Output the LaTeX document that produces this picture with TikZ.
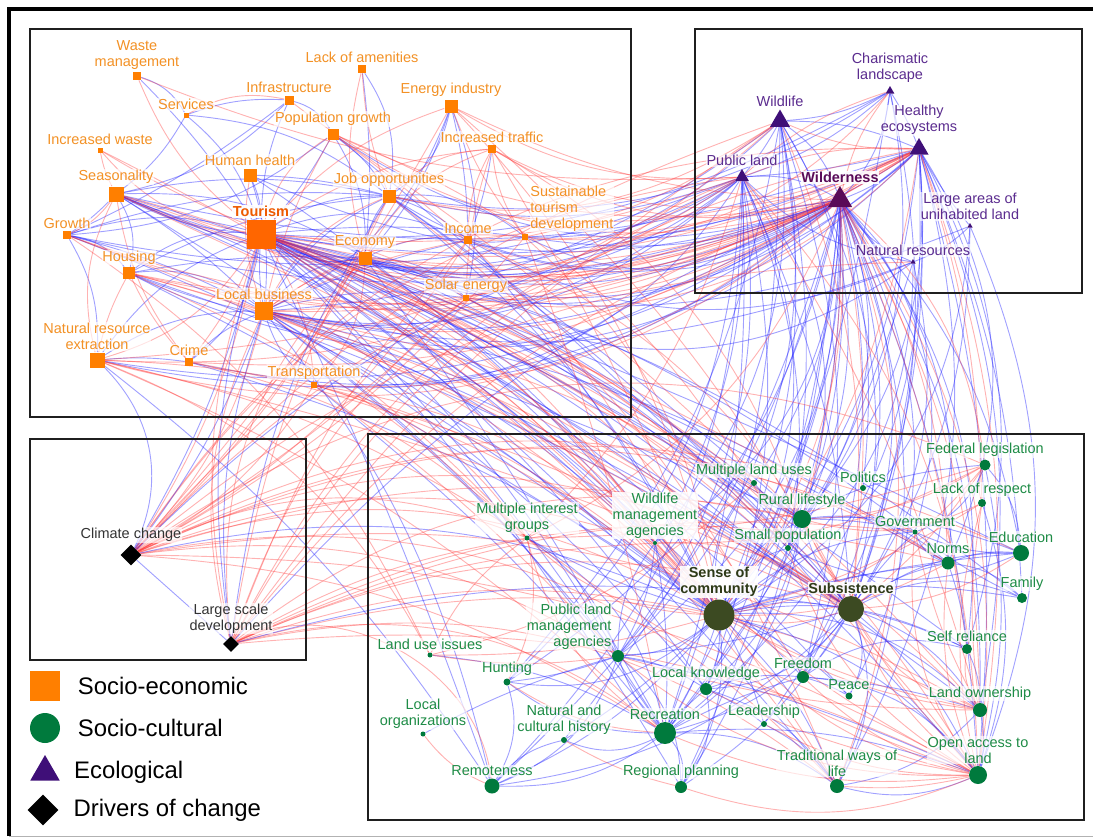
\documentclass[tikz,border=0pt]{standalone}
\usepackage{fontspec}
\setmainfont{Liberation Sans}
\usetikzlibrary{shapes.geometric,backgrounds}

\definecolor{seorange}{HTML}{FF7F00}
\definecolor{tourorange}{HTML}{FF6600}
\definecolor{setext}{HTML}{F39125}
\definecolor{tourtext}{HTML}{EE5A00}
\definecolor{scgreen}{HTML}{007A3D}
\definecolor{sctext}{HTML}{1E8C46}
\definecolor{olive}{HTML}{3C4A22}
\definecolor{olivetext}{HTML}{2E3A18}
\definecolor{ecpurple}{HTML}{3F0F78}
\definecolor{ectext}{HTML}{5B2C8F}
\definecolor{wildpurple}{HTML}{5A0B58}
\definecolor{edgeblue}{HTML}{2020FF}
\definecolor{edgered}{HTML}{FF3535}

\newcommand{\lblfont}{\fontsize{10.3}{11.4}\selectfont}

\tikzset{
  senode/.style={rectangle,fill=seorange,inner sep=0pt,minimum size=#1*0.025cm},
  scnode/.style={circle,fill=scgreen,inner sep=0pt,minimum size=#1*0.025cm},
  ecnode/.style={regular polygon,regular polygon sides=3,fill=ecpurple,inner sep=0pt,minimum size=#1*0.025cm},
  drnode/.style={diamond,aspect=1,fill=black,inner sep=0pt,minimum size=#1*0.025cm},
  halo/.style={font=\lblfont,align=center,inner sep=0.6pt,fill=white,fill opacity=0.65,text opacity=1},
  selbl/.style={halo,text=setext},
  sclbl/.style={halo,text=sctext},
  eclbl/.style={halo,text=ectext},
  drlbl/.style={halo,text=black!80},
  boldlbl/.style={halo,font=\lblfont\bfseries,fill opacity=0.9},
  every label/.style={label distance=1pt},
  posedge/.style={draw=edgeblue,draw opacity=0.42,line width=0.65pt},
  negedge/.style={draw=edgered,draw opacity=0.38,line width=0.65pt},
  boxframe/.style={draw=black!88,line width=1.4pt},
  legtxt/.style={font=\fontsize{17}{20}\selectfont,text=black,label distance=9pt}
}

\begin{document}
\begin{tikzpicture}[x=0.025cm,y=-0.025cm]
  \useasboundingbox (0,0) rectangle (1093,837);
  % outer frame
  \draw[line width=2.2pt] (9,836) -- (9,9) -- (1093,9);
  \draw[black!30,line width=0.6pt] (9,836) -- (1093,836);

  % group boxes
  \draw[boxframe] (30,29) rectangle (631,417);
  \draw[boxframe] (695,29) rectangle (1082,293);
  \draw[boxframe] (30,439) rectangle (306,660);
  \draw[boxframe] (368,434) rectangle (1084,820);

  % socio-economic
  \node[senode=8,label={[selbl]above:Waste\\management}] (waste) at (137,76) {};
  \node[senode=8,label={[selbl]above:Lack of amenities}] (lack) at (362,69) {};
  \node[senode=9,label={[selbl]above:Infrastructure}] (infra) at (289,100) {};
  \node[senode=5,label={[selbl]above:Services}] (serv) at (186,115) {};
  \node[senode=13,label={[selbl]above:Energy industry}] (energy) at (451,106) {};
  \node[senode=11,label={[selbl]above:Population growth}] (popg) at (333,134) {};
  \node[senode=5,label={[selbl]above:Increased waste}] (iwaste) at (100,150) {};
  \node[senode=8,label={[selbl]above:Increased traffic}] (itraf) at (492,149) {};
  \node[senode=13,label={[selbl]above:Human health}] (hh) at (250,175) {};
  \node[senode=15,label={[selbl]above:Seasonality}] (seas) at (116,194) {};
  \node[senode=13,label={[selbl]above:Job opportunities}] (job) at (389,196) {};
  \node[senode=6,label={[selbl,align=left]north east:Sustainable\\tourism\\development}] (std) at (525,237) {};
  \node[senode=29,fill=tourorange,label={[boldlbl,text=tourtext]above:Tourism}] (tour) at (261,234) {};
  \node[senode=8,label={[selbl]above:Growth}] (grow) at (67,235) {};
  \node[senode=13,label={[selbl]above:Economy}] (econ) at (365,258) {};
  \node[senode=8,label={[selbl]above:Income}] (inc) at (468,240) {};
  \node[senode=12,label={[selbl]above:Housing}] (hous) at (129,273) {};
  \node[senode=6,label={[selbl]above:Solar energy}] (solar) at (466,298) {};
  \node[senode=18,label={[selbl]above:Local business}] (lbus) at (264,311) {};
  \node[senode=15,label={[selbl]above:Natural resource\\extraction}] (nre) at (97,360) {};
  \node[senode=8,label={[selbl]above:Crime}] (crime) at (189,362) {};
  \node[senode=6,label={[selbl]above:Transportation}] (trans) at (314,385) {};

  % ecological
  \node[ecnode=10,label={[eclbl]above:Charismatic\\landscape}] (char) at (890,91) {};
  \node[ecnode=23,label={[eclbl]above:Wildlife}] (wildl) at (780,121) {};
  \node[ecnode=22,label={[eclbl]above:Healthy\\ecosystems}] (heal) at (919,149) {};
  \node[ecnode=16,label={[eclbl]above:Public land}] (pland) at (742,177) {};
  \node[ecnode=28,fill=wildpurple,label={[boldlbl,text=wildpurple]above:Wilderness}] (wild) at (840,200) {};
  \node[ecnode=6,label={[eclbl]above:Large areas of\\unihabited land}] (large) at (970,226) {};
  \node[ecnode=6,label={[eclbl]above:Natural resources}] (natres) at (913,262) {};

  % drivers of change
  \node[drnode=21,label={[drlbl]above:Climate change}] (clim) at (131,555) {};
  \node[drnode=16,label={[drlbl]above:Large scale\\development}] (lsd) at (231,644) {};

  % socio-cultural
  \node[scnode=11,label={[sclbl]above:Federal legislation}] (fed) at (985,465) {};
  \node[scnode=6,label={[sclbl]above:Multiple land uses}] (mlu) at (754,483) {};
  \node[scnode=6,label={[sclbl]above:Politics}] (pol) at (863,488) {};
  \node[scnode=8,label={[sclbl]above:Lack of respect}] (lor) at (982,503) {};
  \node[scnode=4,label={[sclbl,fill opacity=0.85]above:Wildlife\\management\\agencies}] (wma) at (655,543) {};
  \node[scnode=18,label={[sclbl]above:Rural lifestyle}] (rural) at (802,519) {};
  \node[scnode=5,label={[sclbl]above:Multiple interest\\groups}] (mig) at (527,538) {};
  \node[scnode=5,label={[sclbl]above:Government}] (gov) at (915,532) {};
  \node[scnode=6,label={[sclbl]above:Small population}] (smallp) at (788,548) {};
  \node[scnode=13,label={[sclbl]above:Norms}] (norms) at (948,563) {};
  \node[scnode=16,label={[sclbl]above:Education}] (edu) at (1021,553) {};
  \node[scnode=31,fill=olive,label={[boldlbl,text=olivetext]above:Sense of\\community}] (soc) at (719,615) {};
  \node[scnode=26,fill=olive,label={[boldlbl,text=olivetext]above:Subsistence}] (subs) at (851,609) {};
  \node[scnode=10,label={[sclbl]above:Family}] (fam) at (1022,598) {};
  \node[scnode=10,label={[sclbl]above:Self reliance}] (selfr) at (967,649) {};
  \node[scnode=12,label={[sclbl,align=right]north west:Public land\\management\\agencies}] (plma) at (618,656) {};
  \node[scnode=5,label={[sclbl]above:Land use issues}] (lui) at (430,655) {};
  \node[scnode=7,label={[sclbl]above:Hunting}] (hunt) at (507,682) {};
  \node[scnode=12,label={[sclbl]above:Freedom}] (free) at (803,677) {};
  \node[scnode=12,label={[sclbl]above:Local knowledge}] (lk) at (706,689) {};
  \node[scnode=7,label={[sclbl]above:Peace}] (peace) at (849,696) {};
  \node[scnode=5,label={[sclbl]above:Local\\organizations}] (lorg) at (423,734) {};
  \node[scnode=6,label={[sclbl]above:Natural and\\cultural history}] (nch) at (564,740) {};
  \node[scnode=22,label={[sclbl]above:Recreation}] (rec) at (665,733) {};
  \node[scnode=6,label={[sclbl]above:Leadership}] (lead) at (764,724) {};
  \node[scnode=14,label={[sclbl]above:Land ownership}] (lown) at (980,710) {};
  \node[scnode=18,label={[sclbl]above:Open access to\\land}] (oal) at (978,775) {};
  \node[scnode=14,label={[sclbl]above:Traditional ways of\\life}] (twl) at (837,786) {};
  \node[scnode=15,label={[sclbl]above:Remoteness}] (remo) at (492,786) {};
  \node[scnode=12,label={[sclbl]above:Regional planning}] (regp) at (681,787) {};

  % legend
  \node[rectangle,fill=seorange,minimum size=30*0.025cm,inner sep=0pt,label={[legtxt]right:Socio-economic}] (legse) at (45,686) {};
  \node[circle,fill=scgreen,minimum size=30*0.025cm,inner sep=0pt,label={[legtxt]right:Socio-cultural}] (legsc) at (45,728) {};
  \node[regular polygon,regular polygon sides=3,fill=ecpurple,minimum size=34*0.025cm,inner sep=0pt,label={[legtxt,label distance=10pt]right:Ecological}] (legec) at (45,772) {};
  \node[diamond,aspect=1,fill=black,minimum size=31*0.025cm,inner sep=0pt,label={[legtxt,label distance=7pt]right:Drivers of change}] (legdr) at (43,810) {};

  \begin{scope}[on background layer]
    % within socio-economic
    \foreach \a/\b [count=\i] in {tour/seas,grow/tour,hous/tour,lbus/tour,hh/tour,tour/job,econ/tour,popg/tour,tour/infra,serv/tour,tour/inc,tour/std,tour/solar,nre/tour,tour/crime,seas/grow,serv/seas,infra/seas,seas/hous,seas/lbus,seas/job,seas/econ,grow/hous,grow/lbus,grow/job,popg/grow,hous/lbus,hous/econ,hous/job,lbus/job,lbus/econ,lbus/inc,lbus/solar,nre/lbus,waste/serv,waste/tour,serv/infra,serv/job,infra/popg,infra/grow,popg/job,popg/econ,energy/job,energy/inc,energy/econ,energy/solar,energy/lbus,itraf/inc,job/inc,econ/job,job/std,hh/job,hh/lbus,econ/inc,econ/solar,nre/crime,crime/lbus,trans/lbus,lack/job,lack/econ,std/inc,grow/nre}
      {\pgfmathsetmacro\bd{6+5*mod(\i,4)}
       \draw[posedge] (\a) to[bend left=\bd] (\b);}
    \foreach \a/\b [count=\i] in {waste/tour,iwaste/tour,iwaste/seas,itraf/tour,itraf/job,itraf/solar,itraf/std,itraf/econ,lack/job,lack/econ,popg/tour,hous/crime,seas/crime,nre/tour,crime/tour,hh/lbus,infra/serv,popg/lbus,energy/tour,job/lbus,econ/lbus,trans/tour,seas/nre,hous/nre,grow/seas,std/lbus,inc/lbus,solar/tour,trans/econ,energy/std,itraf/inc}
      {\pgfmathsetmacro\bd{8+6*mod(\i,3)}
       \draw[negedge] (\a) to[bend right=\bd] (\b);}

    % socio-economic to ecological
    \foreach \a/\b [count=\i] in {tour/wild,tour/pland,tour/wildl,tour/heal,lbus/wild,lbus/pland,lbus/heal,lbus/wildl,seas/wild,seas/pland,hous/wild,grow/wild,econ/wild,econ/pland,job/wild,job/pland,solar/wild,inc/wild,std/wild,std/pland,std/heal,nre/heal,hous/pland,tour/char,job/char,inc/natres,solar/natres,grow/pland,hh/wild,popg/wild,econ/heal,seas/heal,nre/wild,crime/wild,trans/pland,lbus/natres,tour/large}
      {\pgfmathsetmacro\bd{16+5*mod(\i,4)}
       \draw[posedge] (\a) to[bend right=\bd] (\b);}
    \foreach \a/\b [count=\i] in {tour/wild,seas/wild,nre/wild,nre/pland,crime/wild,hous/heal,grow/heal,lbus/heal,job/heal,econ/heal,iwaste/wild,energy/wild,energy/pland,itraf/wild,solar/heal,std/wildl,popg/wild,trans/wild,infra/wild,waste/pland,tour/heal,lbus/wild,seas/heal,econ/wild,hous/wild,grow/wild,itraf/heal,tour/pland,lbus/pland,job/wildl,std/char,inc/heal,solar/wild,nre/wildl}
      {\pgfmathsetmacro\bd{12+5*mod(\i,4)}
       \draw[negedge] (\a) to[bend right=\bd] (\b);}

    % socio-economic to socio-cultural
    \foreach \a/\b [count=\i] in {tour/soc,tour/subs,tour/wma,tour/rural,tour/rec,tour/lk,tour/smallp,tour/norms,tour/free,tour/plma,tour/oal,tour/lown,tour/twl,tour/mlu,tour/gov,tour/edu,tour/selfr,tour/peace,tour/fam,lbus/soc,lbus/subs,lbus/rec,lbus/wma,lbus/rural,lbus/plma,lbus/lk,lbus/norms,seas/soc,seas/subs,seas/rural,seas/wma,hous/soc,hous/subs,grow/soc,job/soc,job/rural,job/subs,econ/soc,econ/subs,econ/rec,inc/soc,hh/soc,solar/subs,popg/smallp,trans/rec,nre/remo,lbus/remo,tour/remo,tour/regp,crime/soc}
      {\pgfmathsetmacro\bd{3+3*mod(\i,4)}
       \draw[posedge] (\a) to[bend left=\bd] (\b);}
    \foreach \a/\b [count=\i] in {tour/soc,tour/subs,tour/wma,tour/rural,tour/twl,tour/oal,tour/free,tour/norms,tour/lown,tour/smallp,lbus/soc,lbus/subs,lbus/rural,seas/wma,seas/soc,seas/subs,hous/subs,hous/soc,nre/soc,nre/subs,nre/rec,crime/soc,trans/soc,trans/subs,iwaste/soc,popg/soc,popg/smallp,popg/rural,energy/subs,energy/soc,itraf/rural,itraf/soc,econ/twl,job/twl,std/soc,std/rec,solar/lown,solar/oal,inc/subs,grow/subs,nre/mig,crime/mig,trans/mig,trans/plma,hous/mig,grow/lui,nre/lui,lbus/mig}
      {\pgfmathsetmacro\bd{5+5*mod(\i,4)}
       \draw[negedge] (\a) to[bend left=\bd] (\b);}

    % within ecological
    \foreach \a/\b [count=\i] in {wildl/heal,wildl/wild,wildl/pland,heal/wild,char/wild,char/heal,char/wildl,pland/wild,large/heal,large/natres,natres/wild,heal/pland,char/pland,natres/pland}
      {\pgfmathsetmacro\bd{5+6*mod(\i,3)}
       \draw[posedge] (\a) to[bend left=\bd] (\b);}
    \foreach \a/\b in {char/pland,char/wild,heal/pland,wildl/heal,heal/wild}
      \draw[negedge] (\a) to[bend right=12] (\b);

    % ecological to socio-cultural
    \foreach \a/\b [count=\i] in {wild/soc,wild/subs,wild/rural,wild/smallp,wild/mlu,wild/rec,wild/plma,wild/lk,wild/free,wild/norms,wild/gov,wild/oal,wild/lown,wild/twl,wild/wma,wild/regp,wild/remo,wild/hunt,wild/peace,wild/pol,wild/edu,wild/selfr,wild/lead,wild/nch,wildl/soc,wildl/subs,wildl/rural,wildl/rec,wildl/hunt,wildl/wma,wildl/plma,wildl/smallp,wildl/free,pland/plma,pland/soc,pland/rec,pland/wma,pland/remo,pland/regp,pland/subs,pland/lk,pland/hunt,pland/rural,heal/subs,heal/soc,heal/rural,heal/norms,heal/oal,heal/lown,heal/twl,heal/rec,heal/fam,heal/free,heal/selfr,char/soc,char/rec,char/subs,natres/subs,natres/soc,natres/rec,large/subs,large/oal,large/soc}
      {\pgfmathsetmacro\bd{10+6*mod(\i,4)}
       \draw[posedge] (\a) to[bend left=\bd] (\b);}
    \foreach \a/\b [count=\i] in {wild/lown,wild/oal,wild/selfr,wild/norms,wild/twl,wild/rural,heal/soc,pland/oal,pland/lown,wildl/subs,wild/soc,wild/subs,heal/oal,wild/fed,heal/lor,pland/mig,wild/mig}
      {\pgfmathsetmacro\bd{8+6*mod(\i,3)}
       \draw[negedge] (\a) to[bend left=\bd] (\b);}

    % drivers of change
    \foreach \b [count=\i] in {tour,lbus,econ,job,inc,solar,std,trans,energy}
      {\pgfmathsetmacro\bd{6+4*mod(\i,3)}
       \draw[negedge] (clim) to[bend right=\bd] (\b);}
    \foreach \b [count=\i] in {wild,pland,heal,wildl,natres,soc,subs,rural,wma,mig,norms,oal,lown,edu,twl,rec,plma,gov,fed}
      {\pgfmathsetmacro\bd{14+5*mod(\i,4)}
       \draw[negedge] (clim) to[bend left=\bd] (\b);}
    \foreach \b in {tour,lbus}
      \draw[posedge] (clim) to[bend right=8] (\b);
    \foreach \b in {wild,soc}
      \draw[posedge] (clim) to[bend left=18] (\b);
    \draw[posedge] (clim) -- (lsd);
    \draw[posedge] (clim) to[bend right=35] (nre);
    \foreach \b [count=\i] in {tour,lbus,econ,job,wild,pland,heal,wildl,soc,subs,rural,mig,gov,norms,twl,wma,oal,lown,rec,inc,solar}
      {\pgfmathsetmacro\bd{10+5*mod(\i,4)}
       \draw[negedge] (lsd) to[bend left=\bd] (\b);}
    \draw[negedge] (lsd) to[bend left=55] (remo);
    \foreach \b in {tour,lbus,wild,job,subs}
      \draw[posedge] (lsd) to[bend left=12] (\b);

    % within socio-cultural
    \foreach \a/\b [count=\i] in {soc/subs,soc/rural,soc/smallp,soc/rec,soc/lk,soc/plma,soc/free,soc/norms,soc/remo,soc/regp,soc/hunt,soc/nch,soc/twl,soc/oal,soc/lown,soc/edu,soc/fam,soc/gov,soc/mlu,soc/lead,soc/peace,soc/selfr,soc/wma,soc/mig,subs/rural,subs/rec,subs/lk,subs/free,subs/norms,subs/edu,subs/fam,subs/selfr,subs/oal,subs/lown,subs/twl,subs/plma,subs/regp,subs/remo,subs/peace,subs/gov,subs/smallp,rural/smallp,rural/norms,rural/gov,rural/edu,rural/lk,rural/rec,rural/pol,rural/mlu,rec/remo,rec/regp,rec/lk,rec/plma,rec/hunt,rec/nch,rec/free,rec/oal,rec/twl,plma/remo,plma/hunt,plma/lk,plma/wma,plma/regp,plma/oal,lk/free,lk/twl,lk/regp,lk/lead,norms/edu,norms/fam,norms/gov,norms/selfr,edu/gov,fed/edu,edu/smallp,fam/gov,lown/oal,oal/twl,free/oal,free/lown,selfr/lown,lown/twl,fed/gov,pol/fed,fed/oal,lor/oal,free/selfr,free/peace,lead/twl,mig/plma,mig/rec,wma/rec,wma/plma,remo/nch,hunt/remo,lorg/plma,lui/rec}
      {\pgfmathsetmacro\bd{6+6*mod(\i,4)}
       \draw[posedge] (\a) to[bend left=\bd] (\b);}
    \foreach \a/\b [count=\i] in {soc/subs,soc/oal,soc/lown,soc/norms,soc/fed,soc/lor,subs/oal,subs/lown,subs/fed,subs/edu,subs/wma,rural/oal,rural/fed,rural/lor,mig/fed,mig/lui,mig/soc,mig/oal,lui/mlu,wma/lown,wma/oal,wma/fed,gov/oal,gov/lown,norms/oal,fed/lor,lor/lown,lor/oal,plma/oal,plma/lown,rec/oal,regp/oal,twl/oal,free/oal,selfr/lown,lk/oal,lead/oal,smallp/oal,nch/regp,hunt/rec,hunt/mig,lui/soc,lorg/remo,mig/rec,lui/plma}
      {\pgfmathsetmacro\bd{8+6*mod(\i,3)}
       \draw[negedge] (\a) to[bend right=\bd] (\b);}
  \end{scope}
\end{tikzpicture}
\end{document}
